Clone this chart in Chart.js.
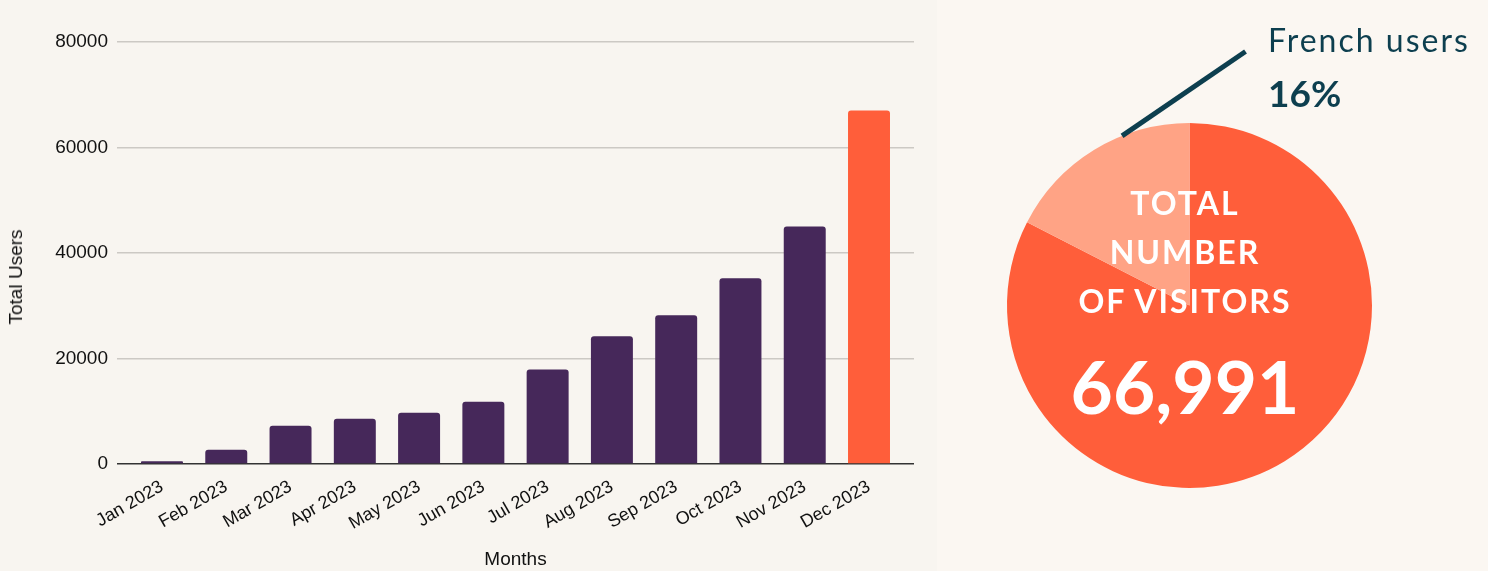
<!DOCTYPE html>
<html lang="en">
	<head>
		<meta charset="UTF-8">
		<title>Total Users 2023</title>
		<script src="https://cdn.jsdelivr.net/npm/chart.js"></script>
		<style>
			html, body { margin: 0; padding: 0; }
			body { width: 1488px; height: 571px; background: #FBF7F2; position: relative; overflow: hidden; }
			#barBox { position: absolute; left: 0; top: 0; width: 937px; height: 571px; background: #F8F5F0; }
			#pieBox { position: absolute; left: 937px; top: 0; width: 551px; height: 571px; }
			#yTitle { position: absolute; left: 16px; top: 277px; transform: translate(-50%, -50%) rotate(-90deg); font: 19px 'Liberation Sans', Arial, sans-serif; color: #111; white-space: nowrap; }
			.pieText { position: absolute; font-family: Lato, sans-serif; color: #fff; text-align: center; white-space: nowrap; }
			#totalLabel { left: 1035px; width: 300px; top: 178px; font-size: 32px; font-weight: 700; line-height: 49px; letter-spacing: 2px; }
			#totalValue { left: 1035px; width: 300px; top: 341px; font-size: 73px; font-weight: 700; line-height: 90px; }
			.callout { position: absolute; left: 1268px; font-family: Lato, sans-serif; color: #0D3F4F; white-space: nowrap; }
			#frenchName { top: 20px; font-size: 32px; letter-spacing: 2px; }
			#frenchPct { top: 70px; font-size: 37px; font-weight: 700; }
		</style>
	</head>
	<body>
		<div id="barBox"><canvas id="barChart" width="937" height="571"></canvas></div>
		<div id="yTitle">Total Users</div>
		<div id="pieBox"><canvas id="pieChart" width="551" height="571"></canvas></div>
		<div id="totalLabel" class="pieText">TOTAL<br>NUMBER<br>OF VISITORS</div>
		<div id="totalValue" class="pieText">66,991</div>
		<div id="frenchName" class="callout">French users</div>
		<div id="frenchPct" class="callout">16%</div>

		<script>
			// Monthly total users
			const months = ['Jan 2023', 'Feb 2023', 'Mar 2023', 'Apr 2023', 'May 2023', 'Jun 2023',
				'Jul 2023', 'Aug 2023', 'Sep 2023', 'Oct 2023', 'Nov 2023', 'Dec 2023'];
			const totalUsers = [500, 2700, 7250, 8550, 9700, 11800, 17900, 24200, 28200, 35200, 45000, 66991];
			const yTicks = [0, 20000, 40000, 60000, 80000];

			// Pie: rest of visitors vs French users
			const pieLabels = ['Other users', 'French users'];
			const pieValues = [55291, 11700];

			const purple = '#46285A';
			const orange = '#FF5E3A';
			const peach = '#FFA385';
			const axisFont = 'Liberation Sans, Arial, sans-serif';

			new Chart(document.getElementById('barChart'), {
				type: 'bar',
				data: {
					datasets: [{
						label: 'Total Users',
						data: totalUsers.map((v, i) => ({ x: i, y: v })),
						backgroundColor: totalUsers.map((_, i) => i === totalUsers.length - 1 ? orange : purple),
						borderRadius: 3,
						borderSkipped: 'start',
						categoryPercentage: 1,
						barPercentage: 0.653
					}]
				},
				options: {
					responsive: false,
					animation: false,
					layout: { padding: { left: 0, right: 23, top: 42, bottom: 0 } },
					plugins: { legend: { display: false }, tooltip: { enabled: false } },
					scales: {
						x: {
							type: 'linear',
							offset: false,
							min: -0.7,
							max: months.length - 0.3,
							afterBuildTicks: (scale) => { scale.ticks = months.map((_, i) => ({ value: i })); },
							ticks: {
								autoSkip: false,
								minRotation: 30,
								maxRotation: 30,
								padding: 12,
								color: '#111',
								font: { family: axisFont, size: 18 },
								callback: (value) => months[value]
							},
							grid: { display: false, drawTicks: false },
							border: { display: false },
							title: {
								display: true,
								text: 'Months',
								color: '#111',
								font: { family: axisFont, size: 19 },
								padding: { top: 2, bottom: 0 }
							}
						},
						y: {
							min: 0,
							max: 80000,
							afterBuildTicks: (scale) => { scale.ticks = yTicks.map(v => ({ value: v })); },
							afterFit: (scale) => { scale.width = 117; },
							ticks: {
								padding: 9,
								color: '#111',
								font: { family: axisFont, size: 19 },
								callback: (value) => String(value)
							},
							grid: {
								drawTicks: false,
								color: (ctx) => ctx.tick && ctx.tick.value === 0 ? '#333333' : '#CCC9C4',
								lineWidth: 1.5
							},
							border: { display: false }
						}
					}
				}
			});

			// Leader line from the French slice up to its label
			const leaderLine = {
				id: 'leaderLine',
				afterDraw(chart) {
					const arc = chart.getDatasetMeta(0).data[1];
					if (!arc) return;
					const { x, y, startAngle, endAngle, outerRadius } = arc.getProps(['x', 'y', 'startAngle', 'endAngle', 'outerRadius'], true);
					const a = startAngle + (endAngle - startAngle) * 0.655;
					const sx = x + Math.cos(a) * outerRadius;
					const sy = y + Math.sin(a) * outerRadius;
					const ex = x + outerRadius * 0.307;
					const ey = y - outerRadius * 1.392;
					const ctx = chart.ctx;
					ctx.save();
					ctx.strokeStyle = '#0D3F4F';
					ctx.lineWidth = 5;
					ctx.beginPath();
					ctx.moveTo(sx, sy);
					ctx.lineTo(ex, ey);
					ctx.stroke();
					ctx.restore();
				}
			};

			new Chart(document.getElementById('pieChart'), {
				type: 'pie',
				data: {
					labels: pieLabels,
					datasets: [{
						data: pieValues,
						backgroundColor: [orange, peach],
						borderWidth: 0,
						hoverOffset: 0
					}]
				},
				options: {
					responsive: false,
					animation: false,
					layout: { padding: { left: 70, right: 116, top: 123, bottom: 83 } },
					plugins: { legend: { display: false }, tooltip: { enabled: false } }
				},
				plugins: [leaderLine]
			});
		</script>
	</body>
</html>
